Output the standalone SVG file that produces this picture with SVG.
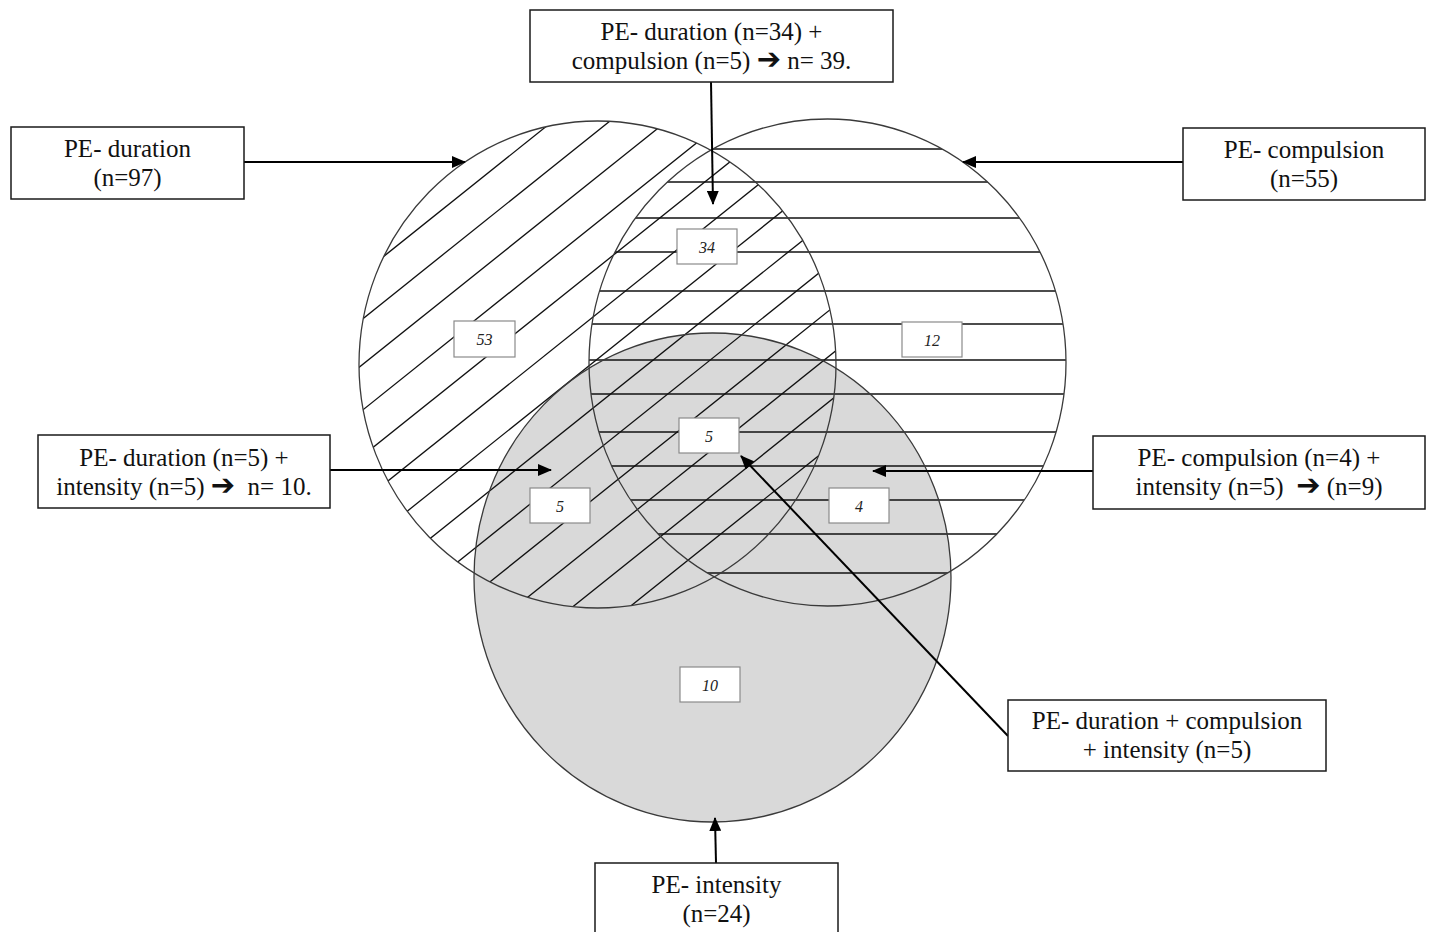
<svg xmlns="http://www.w3.org/2000/svg" width="1432" height="932" viewBox="0 0 1432 932">
<style>
.box{fill:#fff;stroke:#1a1a1a;stroke-width:1.5}
.lbl{font-family:"Liberation Serif","Times New Roman",serif;font-size:25px;fill:#111;text-anchor:middle;white-space:pre}
.arr{font-family:"DejaVu Sans",sans-serif;font-size:29px}
.num{fill:#fff;stroke:#8a8a8a;stroke-width:1.2}
.numt{font-family:"Liberation Serif",serif;font-style:italic;font-size:16px;fill:#222;text-anchor:middle}
.ring{fill:none;stroke:#3a3a3a;stroke-width:1.3}
.hatch line{stroke:#111;stroke-width:1.3}
.conn line{stroke:#000;stroke-width:2;marker-end:url(#ah)}
</style>
<defs>
<marker id="ah" markerUnits="userSpaceOnUse" markerWidth="14" markerHeight="12" refX="13" refY="6" orient="auto">
<path d="M0,0 L14,6 L0,12 Z" fill="#000"/>
</marker>
<clipPath id="c1"><ellipse cx="597.5" cy="364.5" rx="238.5" ry="243.5"/></clipPath>
<clipPath id="c2"><ellipse cx="827.5" cy="362.5" rx="238.5" ry="243.5"/></clipPath>
</defs>
<rect width="1432" height="932" fill="#fff"/>
<g id="venn">
<ellipse id="set-intensity-fill" cx="712.5" cy="577.5" rx="238.5" ry="244.5" fill="#d9d9d9"/>
<g class="hatch" clip-path="url(#c1)">
<line x1="340" y1="291.4" x2="860" y2="-124.6"/>
<line x1="340" y1="337" x2="860" y2="-79"/>
<line x1="340" y1="382.6" x2="860" y2="-33.4"/>
<line x1="340" y1="428.2" x2="860" y2="12.2"/>
<line x1="340" y1="473.8" x2="860" y2="57.8"/>
<line x1="340" y1="519.4" x2="860" y2="103.4"/>
<line x1="340" y1="565" x2="860" y2="149"/>
<line x1="340" y1="610.6" x2="860" y2="194.6"/>
<line x1="340" y1="656.2" x2="860" y2="240.2"/>
<line x1="340" y1="701.8" x2="860" y2="285.8"/>
<line x1="340" y1="747.4" x2="860" y2="331.4"/>
<line x1="340" y1="793" x2="860" y2="377"/>
<line x1="340" y1="838.6" x2="860" y2="422.6"/>
</g>
<g class="hatch" clip-path="url(#c2)">
<line x1="580" y1="149" x2="1075" y2="149"/>
<line x1="580" y1="182" x2="1075" y2="182"/>
<line x1="580" y1="218" x2="1075" y2="218"/>
<line x1="580" y1="252" x2="1075" y2="252"/>
<line x1="580" y1="291" x2="1075" y2="291"/>
<line x1="580" y1="324" x2="1075" y2="324"/>
<line x1="580" y1="360" x2="1075" y2="360"/>
<line x1="580" y1="394" x2="1075" y2="394"/>
<line x1="580" y1="432" x2="1075" y2="432"/>
<line x1="580" y1="466" x2="1075" y2="466"/>
<line x1="580" y1="500" x2="1075" y2="500"/>
<line x1="580" y1="534" x2="1075" y2="534"/>
<line x1="580" y1="573" x2="1075" y2="573"/>
</g>
<ellipse id="set-duration" class="ring" cx="597.5" cy="364.5" rx="238.5" ry="243.5"/>
<ellipse id="set-compulsion" class="ring" cx="827.5" cy="362.5" rx="238.5" ry="243.5"/>
<ellipse id="set-intensity" class="ring" cx="712.5" cy="577.5" rx="238.5" ry="244.5"/>
</g>
<g id="n53"><rect class="num" x="454" y="321" width="61" height="36"/><text class="numt" x="484.5" y="345">53</text></g>
<g id="n34"><rect class="num" x="677" y="229" width="60" height="35"/><text class="numt" x="707" y="253">34</text></g>
<g id="n12"><rect class="num" x="902" y="322" width="60" height="35"/><text class="numt" x="932" y="346">12</text></g>
<g id="n5c"><rect class="num" x="679" y="418" width="60" height="35"/><text class="numt" x="709" y="442">5</text></g>
<g id="n5l"><rect class="num" x="530" y="488" width="60" height="35"/><text class="numt" x="560" y="512">5</text></g>
<g id="n4"><rect class="num" x="829" y="488" width="60" height="35"/><text class="numt" x="859" y="512">4</text></g>
<g id="n10"><rect class="num" x="680" y="667" width="60" height="35"/><text class="numt" x="710" y="691">10</text></g>
<g id="connectors" class="conn">
<line x1="244" y1="162" x2="465" y2="162"/>
<line x1="1183" y1="162" x2="963" y2="162"/>
<line x1="711" y1="82" x2="713" y2="204"/>
<line x1="330" y1="470" x2="551" y2="470"/>
<line x1="1093" y1="471" x2="873" y2="471"/>
<line x1="1008" y1="736" x2="741" y2="456"/>
<line x1="716" y1="863" x2="715" y2="818"/>
</g>
<g id="box-top"><rect class="box" x="530" y="10" width="363" height="72"/>
<text class="lbl" x="711.5" y="40">PE- duration (n=34) +</text>
<text class="lbl" x="711.5" y="69">compulsion (n=5) <tspan class="arr">➔</tspan> n= 39.</text></g>
<g id="box-duration"><rect class="box" x="11" y="127" width="233" height="72"/>
<text class="lbl" x="127.5" y="157">PE- duration</text>
<text class="lbl" x="127.5" y="186">(n=97)</text></g>
<g id="box-compulsion"><rect class="box" x="1183" y="128" width="242" height="72"/>
<text class="lbl" x="1304" y="158">PE- compulsion</text>
<text class="lbl" x="1304" y="187">(n=55)</text></g>
<g id="box-dur-int"><rect class="box" x="38" y="435" width="292" height="73"/>
<text class="lbl" x="184" y="466">PE- duration (n=5) +</text>
<text class="lbl" x="184" y="495">intensity (n=5) <tspan class="arr">➔</tspan>  n= 10.</text></g>
<g id="box-comp-int"><rect class="box" x="1093" y="436" width="332" height="73"/>
<text class="lbl" x="1259" y="466">PE- compulsion (n=4) +</text>
<text class="lbl" x="1259" y="495">intensity (n=5)  <tspan class="arr">➔</tspan> (n=9)</text></g>
<g id="box-all"><rect class="box" x="1008" y="700" width="318" height="71"/>
<text class="lbl" x="1167" y="729">PE- duration + compulsion</text>
<text class="lbl" x="1167" y="758">+ intensity (n=5)</text></g>
<g id="box-intensity"><rect class="box" x="595" y="863" width="243" height="80"/>
<text class="lbl" x="716.5" y="893">PE- intensity</text>
<text class="lbl" x="716.5" y="922">(n=24)</text></g>
</svg>
